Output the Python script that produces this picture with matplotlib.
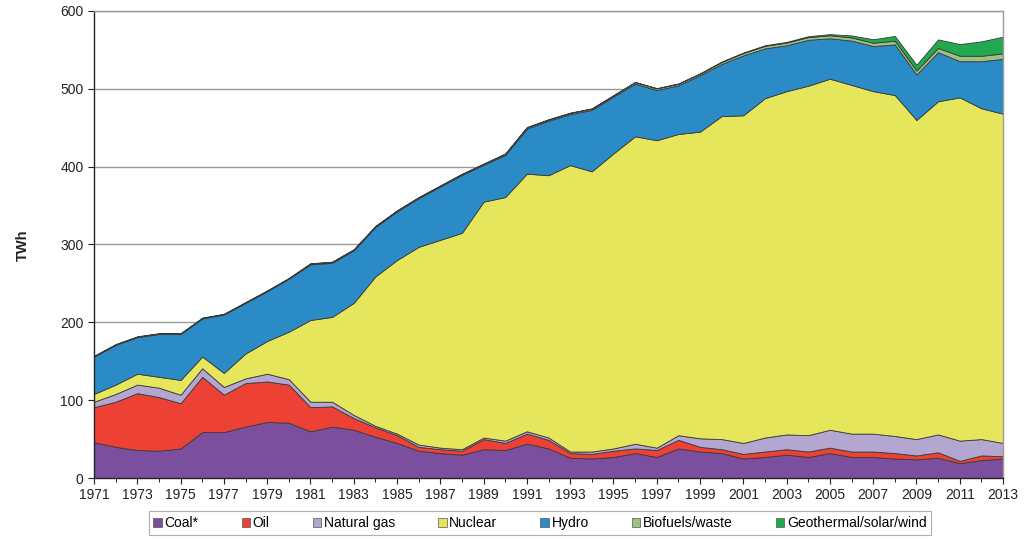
import matplotlib
matplotlib.use("Agg")
import matplotlib.pyplot as plt
from matplotlib.patches import Patch
import numpy as np

years = list(range(1971, 2014))

coal = [46, 40, 36, 35, 38, 59, 59, 66, 72, 71, 60, 66, 62, 53, 45, 35, 32, 30, 37, 36,
        44, 38, 26, 25, 27, 32, 27, 38, 34, 32, 25, 27, 30, 27, 32, 27, 27, 25, 24, 26,
        19, 23, 25]
oil = [45, 58, 73, 69, 58, 71, 48, 56, 52, 49, 31, 26, 15, 12, 10, 5, 5, 5, 13, 9,
       13, 11, 6, 6, 8, 6, 9, 11, 6, 5, 6, 7, 7, 7, 7, 7, 7, 7, 5, 7,
       3, 6, 3]
natural_gas = [7, 10, 11, 12, 11, 11, 10, 6, 10, 7, 7, 6, 4, 2, 2, 3, 2, 2, 2, 3,
               3, 3, 2, 3, 3, 6, 3, 6, 11, 13, 14, 18, 19, 21, 23, 23, 23, 22, 21, 23,
               26, 21, 17]
nuclear = [10, 12, 14, 14, 19, 15, 18, 32, 42, 61, 105, 109, 144, 192, 223, 254, 267, 278, 303, 313,
           331, 337, 368, 360, 379, 395, 395, 387, 394, 415, 421, 436, 441, 449, 451, 448, 440, 438, 410, 428,
           441, 425, 423]
hydro = [48, 51, 47, 55, 59, 49, 75, 65, 64, 68, 71.5, 69.5, 67.5, 63.5, 62.5, 62.5, 68.5, 74.5, 47.5, 54,
         58, 70, 65.5, 79, 73, 67.5, 64.5, 62.5, 72.5, 67, 77, 64, 59, 59, 52, 57, 58, 65, 58.5, 63,
         46.5, 60.5, 70.5]
biofuels = [0.6] * 10 + [1.0] * 9 + [1.5] * 6 + [2.0] * 4 + [2.5, 3.0, 3.2, 3.4, 3.5, 3.8, 4.0, 4.2, 4.8, 5.0, 5.5,
                                                           7.0, 7.0, 7.0]
geo_solar_wind = [0.5] * 29 + [0.6, 0.7, 0.8, 0.9, 1.1, 1.5, 2.6, 4.5, 6.2, 7.5, 11.0,
                               15.0, 18.5, 21.5]

labels = ["Coal*", "Oil", "Natural gas", "Nuclear", "Hydro", "Biofuels/waste", "Geothermal/solar/wind"]
colors = ["#7B4F9E", "#EE4135", "#B3A6D0", "#E6E65C", "#2A8BC6", "#9DC183", "#22A94F"]

plt.rcParams['font.family'] = ['Liberation Sans', 'DejaVu Sans']

fig = plt.figure(figsize=(10.24, 5.43), dpi=100)
ax = fig.add_axes([94 / 1024, 1 - 478 / 543, (1003 - 94) / 1024, (478 - 11) / 543])

series = [coal, oil, natural_gas, nuclear, hydro, biofuels, geo_solar_wind]
ax.stackplot(years, *series, colors=colors, edgecolor="#3a3a3a", linewidth=0.6, zorder=2)

ax.set_xlim(1971, 2013)
ax.set_ylim(0, 600)
ax.set_yticks(range(0, 601, 100))
ax.set_xticks(range(1971, 2014, 2))
ax.set_xticks(range(1971, 2014, 1), minor=True)
ax.yaxis.grid(True, color="#9a9a9a", linewidth=1.0, zorder=0)
ax.set_axisbelow(True)
ax.tick_params(axis="both", labelsize=10, colors="#222222")
ax.tick_params(axis="y", length=4, direction="out")
ax.tick_params(axis="x", which="both", length=4, direction="out")
ax.tick_params(axis="x", which="minor", length=3)
for s in ["left", "bottom"]:
    ax.spines[s].set_color("#222222")
    ax.spines[s].set_linewidth(1.0)
for s in ["top", "right"]:
    ax.spines[s].set_color("#9a9a9a")
    ax.spines[s].set_linewidth(1.0)

fig.text(23 / 1024, 1 - 245 / 543, "TWh", rotation=90, ha="center", va="center",
         fontsize=10.5, fontweight="bold", color="#222222")

handles = [Patch(facecolor=c, edgecolor="#555555", linewidth=0.5) for c in colors]
leg = fig.legend(handles, labels, loc="center", bbox_to_anchor=(540 / 1024, 1 - 523 / 543),
                 ncol=7, frameon=True, fontsize=10, handlelength=0.6, handleheight=0.6,
                 handletextpad=0.2, columnspacing=3.1, borderpad=0.35, borderaxespad=0,
                 fancybox=False)
leg.get_frame().set_edgecolor("#9a9a9a")
leg.get_frame().set_linewidth(0.8)

fig.savefig("out.png", dpi=100)
